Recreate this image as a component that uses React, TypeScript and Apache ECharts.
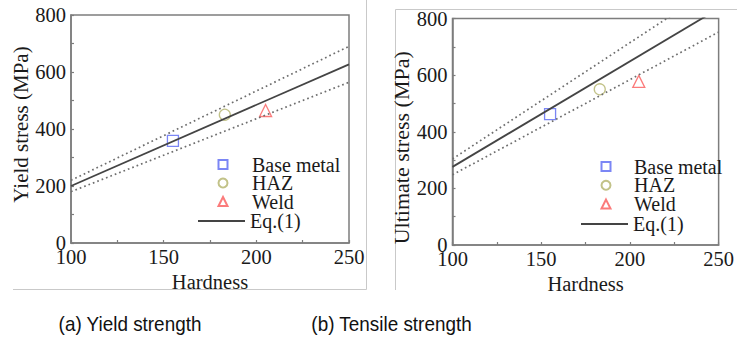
import React, { useEffect, useRef } from "react";
import * as echarts from "echarts";

const materials = ["Base metal", "HAZ", "Weld"];
const hardnessValues = [155, 183, 205];
const yieldValues = [358, 450, 465];
const tensileValues = [462, 550, 578];

const eqHardness = [100, 250];
const yieldEq = [200, 627];
const yieldUpper = [220, 690];
const yieldLower = [180, 564];
const tensileEq = [276, 835];
const tensileUpper = [304, 920];
const tensileLower = [248, 752];

const xTicks = { min: 100, max: 250, interval: 50 };
const yTicks = { min: 0, max: 800, interval: 200 };

const markerColors = ["#5a68f2", "#b3b36a", "#fa5a5a"];
const markerSymbols = ["rect", "circle", "triangle"];
const markerSizes = [11, 11, 12];
const eqName = "Eq.(1)";

const serif = "Liberation Serif";
const axisColor = "#7d7d7d";
const textColor = "#1a1a1a";

function pairs(xs: number[], ys: number[]) {
  return xs.map((x, i) => [x, ys[i]]);
}

function panelSeries(gi: number, pts: number[], eq: number[], up: number[], lo: number[]) {
  const s: any[] = [];
  const dotted = { color: "#6e6e6e", width: 1.7, type: [1.7, 3] };
  s.push({
    name: "upper" + gi, type: "line", xAxisIndex: gi, yAxisIndex: gi,
    data: pairs(eqHardness, up), showSymbol: false, symbol: "none", clip: true,
    lineStyle: dotted, silent: true,
  });
  s.push({
    name: "lower" + gi, type: "line", xAxisIndex: gi, yAxisIndex: gi,
    data: pairs(eqHardness, lo), showSymbol: false, symbol: "none", clip: true,
    lineStyle: dotted, silent: true,
  });
  s.push({
    name: eqName, type: "line", xAxisIndex: gi, yAxisIndex: gi,
    data: pairs(eqHardness, eq), showSymbol: false, symbol: "none", clip: true,
    lineStyle: { color: "#444444", width: 1.8 }, itemStyle: { color: "#444444" },
  });
  materials.forEach((m, i) => {
    s.push({
      name: m, type: "scatter", xAxisIndex: gi, yAxisIndex: gi,
      data: [[hardnessValues[i], pts[i]]],
      symbol: markerSymbols[i], symbolSize: markerSizes[i],
      itemStyle: { color: "rgba(255,255,255,0)", borderColor: markerColors[i], borderWidth: 1.3 },
    });
  });
  return s;
}

function xAxis(gi: number) {
  return {
    type: "value", gridIndex: gi, ...xTicks,
    name: "Hardness", nameLocation: "middle", nameGap: 24,
    nameTextStyle: { fontFamily: serif, fontSize: 20.5, color: textColor },
    axisLine: { show: true, lineStyle: { color: axisColor, width: 1.5 } },
    axisTick: { show: true, inside: true, length: 3, lineStyle: { color: axisColor, width: 1.2 } },
    minorTick: { show: true, splitNumber: 2, length: 3, lineStyle: { color: axisColor, width: 1.2 } },
    axisLabel: { fontFamily: serif, fontSize: 20.5, color: textColor, margin: 3 },
    splitLine: { show: false },
  };
}

function yAxis(gi: number, name: string, fontSize: number, padding: number[], nameGap: number) {
  return {
    type: "value", gridIndex: gi, ...yTicks,
    name, nameLocation: "middle", nameGap, nameRotate: 90,
    nameTextStyle: { fontFamily: serif, fontSize, color: textColor, padding },
    axisLine: { show: true, lineStyle: { color: axisColor, width: 1.5 } },
    axisTick: { show: true, inside: true, length: 3, lineStyle: { color: axisColor, width: 1.2 } },
    minorTick: { show: true, splitNumber: 2, length: 3, lineStyle: { color: axisColor, width: 1.2 } },
    axisLabel: { fontFamily: serif, fontSize: 20.5, color: textColor, margin: 5 },
    splitLine: { show: false },
  };
}

function markerLegend(iconCenterX: number, firstRowY: number, textX: number, rowH: number, gap: number) {
  const size = 9;
  const left = iconCenterX - size / 2;
  const pad = textX - (left + size + 5);
  return {
    left, top: firstRowY - rowH / 2, orient: "vertical", itemWidth: size, itemHeight: size, itemGap: gap,
    data: materials, selectedMode: false, padding: 0,
    textStyle: { fontFamily: serif, fontSize: 20, color: textColor, lineHeight: rowH, padding: [0, 0, 0, pad] },
  };
}

function lineLegend(left: number, lineY: number, rowH: number) {
  const shift = 8;
  return {
    left, top: lineY - rowH / 2 - shift / 2, orient: "vertical", itemWidth: 47, itemHeight: 1.8, itemGap: 0,
    data: [{ name: eqName, icon: "rect" }], selectedMode: false, padding: 0,
    itemStyle: { color: "#444444" },
    textStyle: { fontFamily: serif, fontSize: 20, color: textColor, lineHeight: rowH, padding: [0, 0, shift, 0] },
  };
}

export default function App() {
  const ref = useRef<HTMLDivElement>(null);
  useEffect(() => {
    if (!ref.current) return;
    const chart = echarts.init(ref.current, null, { renderer: "svg" });
    const frame = "#c9c9c9";
    chart.setOption({
      animation: false,
      backgroundColor: "#ffffff",
      grid: [
        { left: 71, top: 15, width: 278, height: 228, show: true, borderColor: axisColor, borderWidth: 1.5, backgroundColor: "transparent" },
        { left: 452.5, top: 18.5, width: 280, height: 226.5, show: true, borderColor: axisColor, borderWidth: 1.5, backgroundColor: "transparent" },
      ],
      xAxis: [xAxis(0), xAxis(1)],
      yAxis: [
        yAxis(0, "Yield stress (MPa)", 21, [0, 0, 0, 9], 39),
        yAxis(1, "Ultimate stress (MPa)", 22, [0, 32, 0, 0], 37),
      ],
      legend: [
        markerLegend(222, 164, 251, 19, -1.5),
        lineLegend(198, 221, 19),
        markerLegend(605, 166, 633, 19, -1.2),
        lineLegend(581, 224, 19),
      ],
      series: [
        ...panelSeries(0, yieldValues, yieldEq, yieldUpper, yieldLower),
        ...panelSeries(1, tensileValues, tensileEq, tensileUpper, tensileLower),
      ],
      graphic: [
        { type: "line", shape: { x1: 13, y1: 289.5, x2: 366.5, y2: 289.5 }, style: { stroke: frame, lineWidth: 1 }, silent: true },
        { type: "line", shape: { x1: 366.5, y1: 0, x2: 366.5, y2: 289.5 }, style: { stroke: frame, lineWidth: 1 }, silent: true },
        { type: "line", shape: { x1: 395.5, y1: 9.5, x2: 737, y2: 9.5 }, style: { stroke: frame, lineWidth: 1 }, silent: true },
        { type: "line", shape: { x1: 395.5, y1: 9.5, x2: 395.5, y2: 290 }, style: { stroke: frame, lineWidth: 1 }, silent: true },
        { type: "text", x: 130, y: 324, scaleX: 0.9, style: { text: "(a) Yield strength", fontFamily: "Liberation Sans", fontSize: 21, fill: "#111", align: "center", verticalAlign: "middle" } },
        { type: "text", x: 391.5, y: 324, scaleX: 0.9, style: { text: "(b) Tensile strength", fontFamily: "Liberation Sans", fontSize: 21, fill: "#111", align: "center", verticalAlign: "middle" } },
      ],
    });
    return () => chart.dispose();
  }, []);
  return <div ref={ref} style={{ position: "fixed", left: 0, top: 0, width: 737, height: 342, background: "#fff" }} />;
}
